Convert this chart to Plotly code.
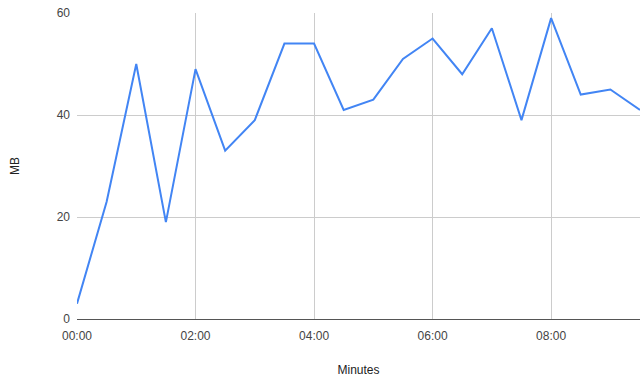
import plotly.graph_objects as go

# Sample times in minutes (every 30 seconds) and memory usage in MB
minutes = [0, 0.5, 1, 1.5, 2, 2.5, 3, 3.5, 4, 4.5, 5, 5.5, 6, 6.5, 7, 7.5, 8, 8.5, 9, 9.5]
usage_mb = [3, 23, 50, 19, 49, 33, 39, 54, 54, 41, 43, 51, 55, 48, 57, 39, 59, 44, 45, 41]

x_tick_vals = [0, 2, 4, 6, 8]
x_tick_text = ["00:00", "02:00", "04:00", "06:00", "08:00"]
y_tick_vals = [0, 20, 40, 60]

font_family = "Liberation Sans, Arial, sans-serif"

fig = go.Figure(
    go.Scatter(
        x=minutes,
        y=usage_mb,
        mode="lines",
        line=dict(color="#4285f4", width=2),
        hoverinfo="skip",
    )
)

fig.update_layout(
    width=643,
    height=379,
    margin=dict(l=77, r=3, t=13, b=60),
    paper_bgcolor="white",
    plot_bgcolor="white",
    showlegend=False,
    font=dict(family=font_family, size=12, color="#444444"),
)

fig.update_xaxes(
    range=[0, 9.5],
    tickvals=x_tick_vals,
    ticktext=x_tick_text,
    showgrid=True,
    gridcolor="#cccccc",
    gridwidth=1,
    zeroline=False,
    showline=True,
    linecolor="#555555",
    linewidth=1,
    ticks="",
    ticklabelstandoff=6,
    tickfont=dict(size=12, color="#444444"),
    title=dict(text="Minutes", font=dict(size=12, color="#222222"), standoff=23),
)

fig.update_yaxes(
    range=[0, 60],
    tickvals=y_tick_vals,
    showgrid=True,
    gridcolor="#cccccc",
    gridwidth=1,
    zeroline=False,
    showline=False,
    ticks="",
    ticklabelstandoff=6,
    tickfont=dict(size=12, color="#444444"),
    title=dict(text="MB", font=dict(size=12, color="#222222"), standoff=34),
)

fig.write_html("out.html")
